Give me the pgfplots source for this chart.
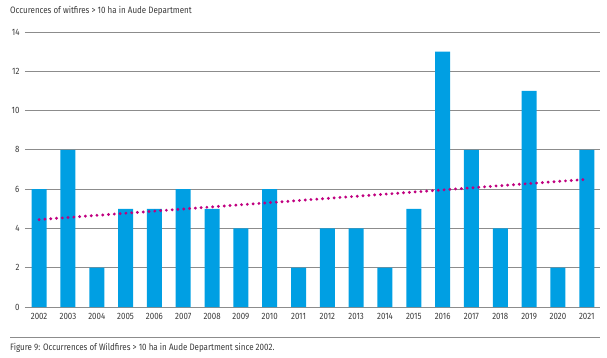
\documentclass[border=0pt]{standalone}
\usepackage{pgfplots}
\pgfplotsset{compat=1.18}
\usepackage{fontspec}
\setmainfont{Fira Sans}[FakeStretch=0.86]
\definecolor{barblue}{HTML}{009FE3}
\definecolor{trend}{HTML}{C0007F}
\definecolor{gridg}{HTML}{8C8C8C}
\definecolor{txt}{HTML}{3A3A3A}
\begin{document}
\begin{tikzpicture}[x=1pt,y=1pt]
\useasboundingbox (0,0) rectangle (607,357);
\node[anchor=west,text=txt,font=\fontsize{9.3}{10}\selectfont,inner sep=0pt] at (10,346) {Occurences of witfires > 10 ha in Aude Department};
\draw[gridg,line width=1pt] (10,20) -- (600,20);
\node[anchor=west,text=txt,font=\fontsize{9.3}{10}\selectfont,inner sep=0pt] at (10,9) {Figure 9: Occurrences of Wildfires > 10 ha in Aude Department since 2002.};
\begin{axis}[
  at={(25pt,50pt)}, anchor=south west,
  scale only axis, width=575pt, height=275pt,
  xmin=-0.49, xmax=19.46, ymin=0, ymax=14,
  axis line style={draw=none},
  ytick={0,2,...,14},
  xtick={0,...,19},
  xticklabels={2002,2003,2004,2005,2006,2007,2008,2009,2010,2011,2012,2013,2014,2015,2016,2017,2018,2019,2020,2021},
  major tick length=0pt,
  ymajorgrids, grid style={gridg,line width=1pt},
  tick label style={text=txt,font=\fontsize{9.2}{10}\selectfont},
  /pgf/number format/assume math mode=true,
  yticklabel style={xshift=-2pt},
  xticklabel style={yshift=-3pt},
]
\addplot[ybar, bar width=15pt, fill=barblue, draw=none, bar shift=0pt] coordinates {
(0,6)(1,8)(2,2)(3,5)(4,5)(5,6)(6,5)(7,4)(8,6)(9,2)(10,4)(11,4)(12,2)(13,5)(14,13)(15,8)(16,4)(17,11)(18,2)(19,8)};
\addplot[trend, line width=3.2pt, line cap=round, dash pattern=on 0pt off 5.8pt] coordinates {(0,4.45)(19,6.5)};
\end{axis}
\end{tikzpicture}
\end{document}
